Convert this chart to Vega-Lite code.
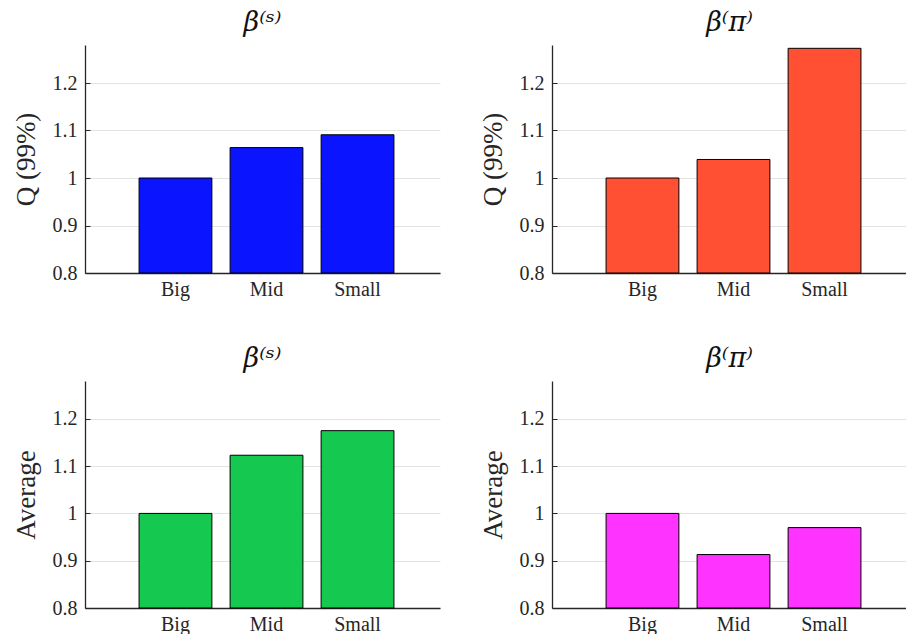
{
  "$schema": "https://vega.github.io/schema/vega-lite/v6.json",
  "background": "white",
  "padding": {"left": 12, "top": 9, "right": 0, "bottom": 0},
  "config": {
    "font": "Liberation Serif",
    "view": {"stroke": null},
    "axis": {
      "labelFont": "Liberation Serif",
      "labelFontSize": 20,
      "labelColor": "#262626",
      "titleFont": "Liberation Serif",
      "titleFontSize": 27,
      "titleFontWeight": "normal",
      "titleColor": "#262626",
      "domainColor": "#262626",
      "domainWidth": 1.3,
      "gridColor": "#e3e3e3",
      "gridWidth": 1
    },
    "title": {"font": "DejaVu Serif", "fontSize": 27, "fontWeight": "normal", "fontStyle": "italic", "color": "#111111", "offset": 8}
  },
  "data": {
    "values": [
      {"panel": "q_s", "size": "Big", "value": 1.0},
      {"panel": "q_s", "size": "Mid", "value": 1.064},
      {"panel": "q_s", "size": "Small", "value": 1.091},
      {"panel": "q_p", "size": "Big", "value": 1.0},
      {"panel": "q_p", "size": "Mid", "value": 1.039},
      {"panel": "q_p", "size": "Small", "value": 1.273},
      {"panel": "a_s", "size": "Big", "value": 1.0},
      {"panel": "a_s", "size": "Mid", "value": 1.123},
      {"panel": "a_s", "size": "Small", "value": 1.175},
      {"panel": "a_p", "size": "Big", "value": 1.0},
      {"panel": "a_p", "size": "Mid", "value": 0.913},
      {"panel": "a_p", "size": "Small", "value": 0.97}
    ]
  },
  "columns": 2,
  "spacing": {"row": 108, "column": 112},
  "bounds": "flush",
  "concat": [
    {
      "title": "β⁽ˢ⁾",
      "width": 355, "height": 228,
      "transform": [{"filter": "datum.panel === 'q_s'"}],
      "mark": {"type": "bar", "color": "#0A14FF", "stroke": "black", "strokeWidth": 1},
      "encoding": {
        "x": {"field": "size", "type": "nominal", "sort": ["Big", "Mid", "Small"],
              "scale": {"domain": ["Big", "Mid", "Small"], "paddingInner": 0.2, "paddingOuter": 0.55, "align": 0.54},
              "axis": {"title": null, "labelAngle": 0, "ticks": false, "labelPadding": 6, "grid": false}},
        "y": {"field": "value", "type": "quantitative",
              "scale": {"domain": [0.8, 1.28], "zero": false, "nice": false},
              "axis": {"title": "Q (99%)", "values": [0.8, 0.9, 1, 1.1, 1.2], "format": ".2~f", "tickSize": -5, "tickColor": "#262626", "labelPadding": 13, "titlePadding": 12}},
        "y2": {"datum": 0.8}
      }
    },
    {
      "title": "β⁽π⁾",
      "width": 355, "height": 228,
      "transform": [{"filter": "datum.panel === 'q_p'"}],
      "mark": {"type": "bar", "color": "#FF5033", "stroke": "black", "strokeWidth": 1},
      "encoding": {
        "x": {"field": "size", "type": "nominal", "sort": ["Big", "Mid", "Small"],
              "scale": {"domain": ["Big", "Mid", "Small"], "paddingInner": 0.2, "paddingOuter": 0.55, "align": 0.54},
              "axis": {"title": null, "labelAngle": 0, "ticks": false, "labelPadding": 6, "grid": false}},
        "y": {"field": "value", "type": "quantitative",
              "scale": {"domain": [0.8, 1.28], "zero": false, "nice": false},
              "axis": {"title": "Q (99%)", "values": [0.8, 0.9, 1, 1.1, 1.2], "format": ".2~f", "tickSize": -5, "tickColor": "#262626", "labelPadding": 13, "titlePadding": 12}},
        "y2": {"datum": 0.8}
      }
    },
    {
      "title": "β⁽ˢ⁾",
      "width": 355, "height": 227,
      "transform": [{"filter": "datum.panel === 'a_s'"}],
      "mark": {"type": "bar", "color": "#15C84F", "stroke": "black", "strokeWidth": 1},
      "encoding": {
        "x": {"field": "size", "type": "nominal", "sort": ["Big", "Mid", "Small"],
              "scale": {"domain": ["Big", "Mid", "Small"], "paddingInner": 0.2, "paddingOuter": 0.55, "align": 0.54},
              "axis": {"title": null, "labelAngle": 0, "ticks": false, "labelPadding": 6, "grid": false}},
        "y": {"field": "value", "type": "quantitative",
              "scale": {"domain": [0.8, 1.28], "zero": false, "nice": false},
              "axis": {"title": "Average", "values": [0.8, 0.9, 1, 1.1, 1.2], "format": ".2~f", "tickSize": -5, "tickColor": "#262626", "labelPadding": 13, "titlePadding": 12}},
        "y2": {"datum": 0.8}
      }
    },
    {
      "title": "β⁽π⁾",
      "width": 355, "height": 227,
      "transform": [{"filter": "datum.panel === 'a_p'"}],
      "mark": {"type": "bar", "color": "#FF33FF", "stroke": "black", "strokeWidth": 1},
      "encoding": {
        "x": {"field": "size", "type": "nominal", "sort": ["Big", "Mid", "Small"],
              "scale": {"domain": ["Big", "Mid", "Small"], "paddingInner": 0.2, "paddingOuter": 0.55, "align": 0.54},
              "axis": {"title": null, "labelAngle": 0, "ticks": false, "labelPadding": 6, "grid": false}},
        "y": {"field": "value", "type": "quantitative",
              "scale": {"domain": [0.8, 1.28], "zero": false, "nice": false},
              "axis": {"title": "Average", "values": [0.8, 0.9, 1, 1.1, 1.2], "format": ".2~f", "tickSize": -5, "tickColor": "#262626", "labelPadding": 13, "titlePadding": 12}},
        "y2": {"datum": 0.8}
      }
    }
  ]
}
